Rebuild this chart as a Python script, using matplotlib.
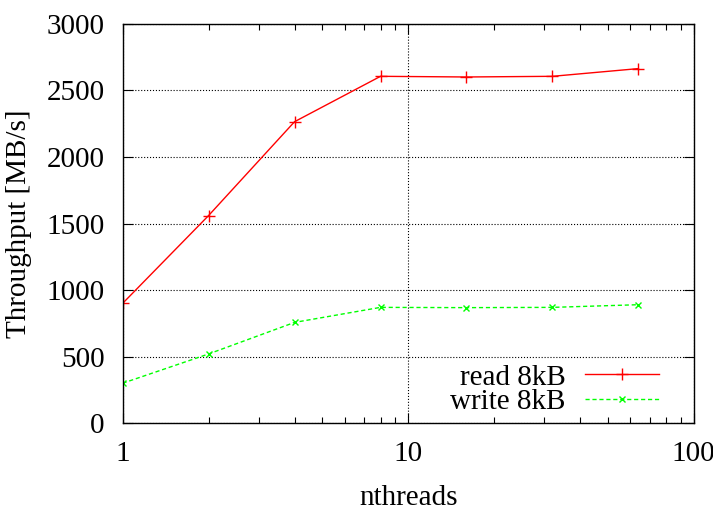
import numpy as np
import matplotlib
matplotlib.use("Agg")
from matplotlib import pyplot as plt

nthreads = [1, 2, 4, 8, 16, 32, 64]
read_8kb = [900, 1560, 2265, 2606, 2601, 2606, 2664]
write_8kb = [300, 520, 757, 870, 868, 870, 890]

plt.rcParams['font.family'] = ['Liberation Serif', 'DejaVu Serif']
plt.rcParams['font.size'] = 21

fig = plt.figure(figsize=(7.13, 5.08), dpi=100)
ax = fig.add_axes([0.172, 0.167, 0.801, 0.786])

ax.plot(nthreads, read_8kb, '-', color='#ff0000', marker='+', ms=8, mew=1,
        lw=1, label='read 8kB')
ax.plot(nthreads, write_8kb, '--', color='#00ff00', marker='x', ms=5, mew=1,
        lw=1, dashes=(3, 2), label='write 8kB')

ax.set_xscale('log')
ax.set_xlim(1, 100)
ax.set_ylim(0, 3000)
ax.set_yticks(np.arange(0, 3001, 500))
ax.set_xticks([1, 10, 100])
ax.set_xticklabels(['1', '10', '100'])

ax.grid(True, which='major', color='black', linestyle=':', linewidth=0.8)
ax.tick_params(which='both', direction='in', top=True, right=True)
ax.tick_params(axis='x', which='major', length=7, width=0.8, pad=13)
ax.tick_params(axis='y', which='major', length=7, width=0.8, pad=13)
ax.tick_params(which='minor', length=4, width=0.8)
for s in ax.spines.values():
    s.set_linewidth(1)

ax.set_xlabel('nthreads', labelpad=13)
ax.set_ylabel('Throughput [MB/s]', labelpad=10)

ax.legend(loc='lower right', frameon=False, markerfirst=False,
          handlelength=2.57, handletextpad=0.65, borderaxespad=0.0,
          labelspacing=-0.06, borderpad=0.0,
          bbox_to_anchor=(0.94, 0.02))

fig.savefig('out.png', dpi=100)
